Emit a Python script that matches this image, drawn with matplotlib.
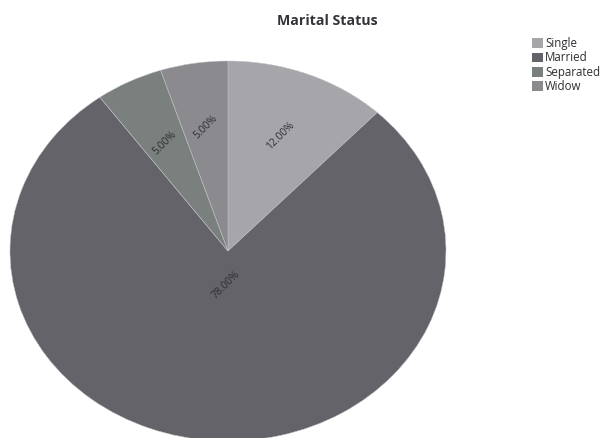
import numpy as np
import matplotlib
matplotlib.use("Agg")
import matplotlib.pyplot as plt
from matplotlib.patches import Patch

categories = ["Single", "Married", "Separated", "Widow"]
values = [12.0, 78.0, 5.0, 5.0]
colors = ["#a6a5aa", "#646369", "#7a807d", "#8b8a8f"]
label_radius = [0.65, 0.18, 0.64, 0.66]

W, H = 608, 438
fig = plt.figure(figsize=(W / 100, H / 100), dpi=100)
cx, cy, rx, ry = 228, 251, 218, 190
ax = fig.add_axes([(cx - rx) / W, (H - cy - ry) / H, 2 * rx / W, 2 * ry / H])
wedges, _ = ax.pie(values, colors=colors, startangle=90, counterclock=False,
                   wedgeprops=dict(edgecolor="#c4c4c8", linewidth=0.35))
ax.set_aspect("auto")
ax.set_xlim(-1, 1)
ax.set_ylim(-1, 1)
ax.axis("off")

total = sum(values)
start = 0.0
for v, r in zip(values, label_radius):
    mid = np.deg2rad((start + v / 2) / total * 360)
    start += v
    ax.text(r * np.sin(mid), r * np.cos(mid), f"{v:.2f}%", rotation=45,
            ha="center", va="center", fontsize=7.4, color="#2e2e33",
            family="Open Sans")

fig.text(327 / W, 1 - 21 / H, "Marital Status", ha="center", va="center",
         fontsize=10.2, fontweight="bold", color="#333338", family="Open Sans")

handles = [Patch(facecolor=c, edgecolor="none") for c in colors]
leg = fig.legend(handles, categories, loc="upper left",
                 bbox_to_anchor=(524 / W, 1 - 29 / H), frameon=False,
                 handlelength=0.95, handleheight=0.95,
                 handletextpad=0.2, labelspacing=0.12, borderpad=0.2,
                 prop=dict(family="Open Sans", size=8.3))
for t in leg.get_texts():
    t.set_color("#2e2e33")

fig.savefig("out.png", dpi=100)
